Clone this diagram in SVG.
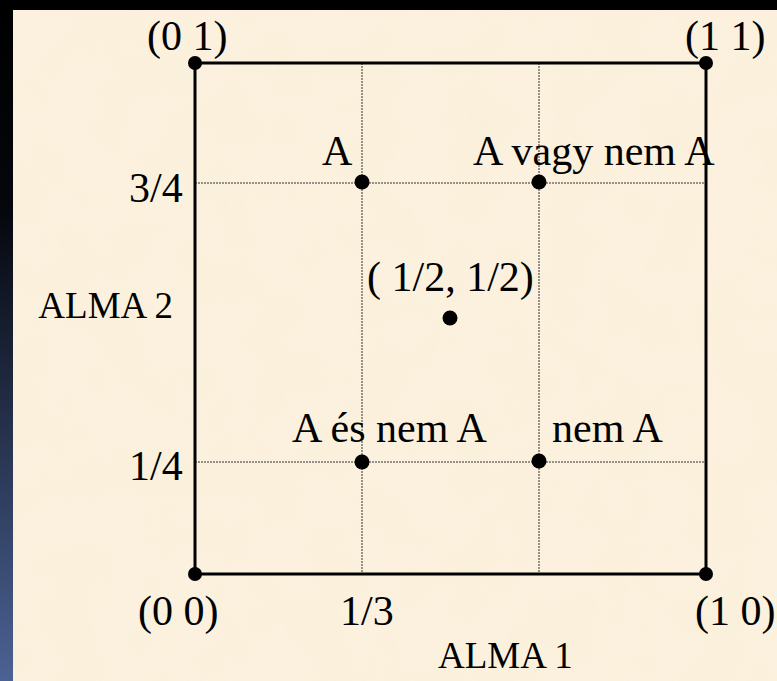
<svg xmlns="http://www.w3.org/2000/svg" width="777" height="681" viewBox="0 0 777 681">
<defs>
<linearGradient id="strip" x1="0" y1="0" x2="0" y2="1">
<stop offset="0" stop-color="#000000"/>
<stop offset="0.3" stop-color="#05070d"/>
<stop offset="1" stop-color="#4b6294"/>
</linearGradient>
<filter id="paper" x="0" y="0" width="100%" height="100%">
<feTurbulence type="fractalNoise" baseFrequency="0.02" numOctaves="3" seed="4" result="n"/>
<feColorMatrix in="n" type="matrix" values="0 0 0 0 0.93  0 0 0 0 0.85  0 0 0 0 0.66  0 0 0 1.2 -0.45" result="c"/>
<feComposite in="c" in2="SourceGraphic" operator="in"/>
</filter>
<style>
.t{font-family:"Liberation Serif","Times New Roman",serif;font-size:42px;fill:#000}
.ax{font-size:37px}
.grid{stroke:#333;stroke-width:1;stroke-dasharray:2 1;fill:none}
.edge{stroke:#000;stroke-width:3;fill:none}
.dot{fill:#000}
</style>
</defs>
<rect x="0" y="0" width="777" height="681" fill="#000"/>
<rect x="0" y="10" width="13" height="671" fill="url(#strip)"/>
<rect x="13" y="10" width="764" height="671" fill="#fbf1de"/>
<rect x="13" y="10" width="764" height="671" fill="#fff" filter="url(#paper)" opacity="0.6"/>
<g id="connectors">
<line class="grid" x1="362" y1="63" x2="362" y2="574"/>
<line class="grid" x1="539" y1="63" x2="539" y2="574"/>
<line class="grid" x1="195" y1="183" x2="706" y2="183"/>
<line class="grid" x1="195" y1="462" x2="706" y2="462"/>
<rect class="edge" x="195" y="63" width="511" height="511"/>
</g>
<g id="n00"><circle class="dot" cx="195" cy="574" r="7"/><text class="t" x="138" y="625">(0 0)</text></g>
<g id="n01"><circle class="dot" cx="195" cy="63" r="7"/><text class="t" x="147" y="50">(0 1)</text></g>
<g id="n11"><circle class="dot" cx="706" cy="63" r="7"/><text class="t" x="685" y="50">(1 1)</text></g>
<g id="n10"><circle class="dot" cx="706" cy="574" r="7"/><text class="t" x="695" y="625">(1 0)</text></g>
<g id="nA"><circle class="dot" cx="362" cy="182" r="7.5"/><text class="t" x="322" y="165">A</text></g>
<g id="nAv"><circle class="dot" cx="539" cy="182" r="7.5"/><text class="t" x="473" y="165">A vagy nem A</text></g>
<g id="nHalf"><circle class="dot" cx="450" cy="318" r="7.5"/><text class="t" x="367" y="291">( 1/2, 1/2)</text></g>
<g id="nAes"><circle class="dot" cx="362" cy="462" r="7.5"/><text class="t" x="292" y="442">A és nem A</text></g>
<g id="nNem"><circle class="dot" cx="539" cy="461" r="7.5"/><text class="t" x="552" y="442">nem A</text></g>
<g id="labels">
<text class="t" x="129" y="202">3/4</text>
<text class="t" x="129" y="480">1/4</text>
<text class="t ax" x="173" y="318" text-anchor="end">ALMA 2</text>
<text class="t" x="340" y="625">1/3</text>
<text class="t ax" x="438" y="668">ALMA 1</text>
</g>
</svg>
